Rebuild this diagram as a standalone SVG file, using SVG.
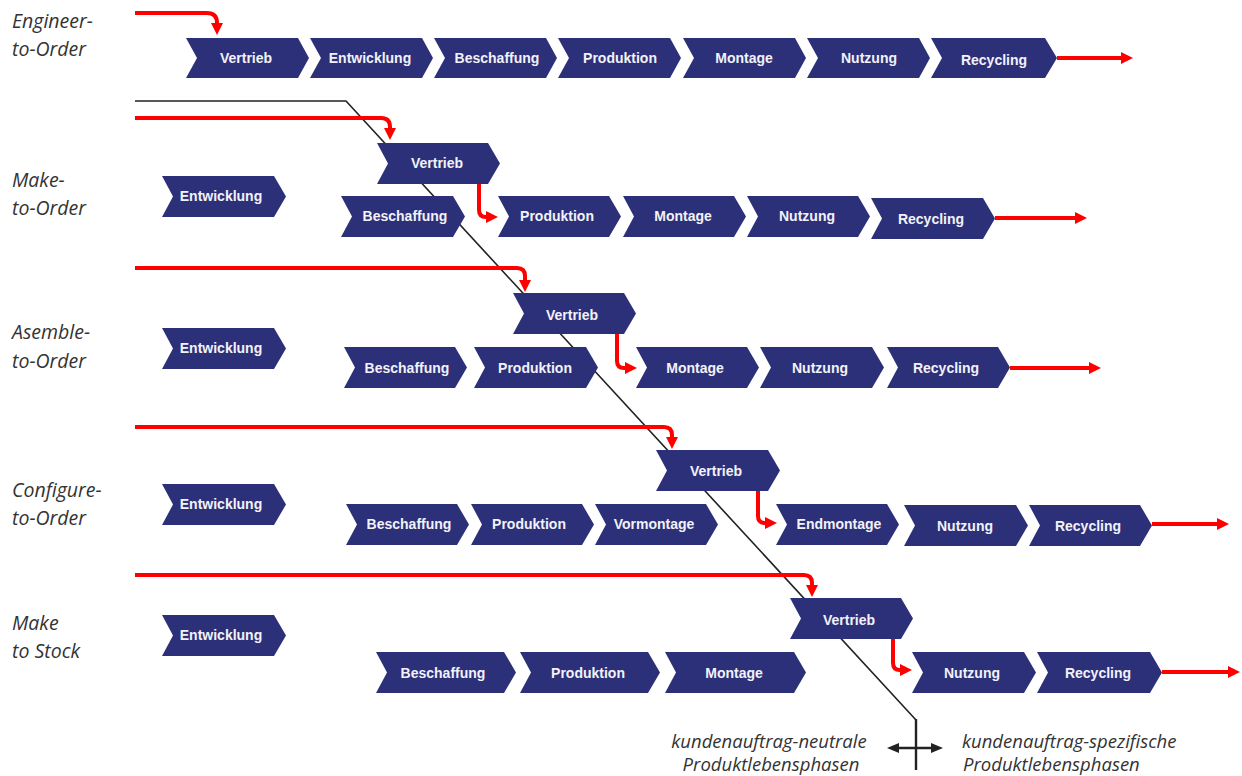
<svg xmlns="http://www.w3.org/2000/svg" width="1242" height="776" viewBox="0 0 1242 776">
<style>
.ch{fill:#2c3079}
.t{font-family:"Liberation Sans",Arial,sans-serif;font-weight:bold;font-size:14px;fill:#f2f2f8;text-anchor:middle}
.lbl{font-family:"Open Sans","Liberation Sans",sans-serif;font-style:italic;font-size:19.5px;fill:#333}
.bl{font-family:"Open Sans","Liberation Sans",sans-serif;font-style:italic;font-size:18.5px;fill:#333}
.red{fill:none;stroke:#ff0000;stroke-width:4}
.blk{fill:none;stroke:#222;stroke-width:1.6}
.blk2{fill:none;stroke:#222;stroke-width:2.4}
</style>
<defs>
<marker id="ra" markerUnits="userSpaceOnUse" markerWidth="12" markerHeight="12" refX="3" refY="6" orient="auto"><path d="M0,0 L12,6 L0,12 z" fill="#ff0000"/></marker>
<marker id="ka" markerUnits="userSpaceOnUse" markerWidth="12" markerHeight="10" refX="3" refY="5" orient="auto-start-reverse"><path d="M0,0 L12,5 L0,10 z" fill="#222"/></marker>
</defs>
<rect width="1242" height="776" fill="#fff"/>
<g id="labels">
<text class="lbl" x="12" y="28">Engineer-</text><text class="lbl" x="12" y="56">to-Order</text>
<text class="lbl" x="12" y="187">Make-</text><text class="lbl" x="12" y="215">to-Order</text>
<text class="lbl" x="12" y="339">Asemble-</text><text class="lbl" x="12" y="368">to-Order</text>
<text class="lbl" x="12" y="497">Configure-</text><text class="lbl" x="12" y="525">to-Order</text>
<text class="lbl" x="12" y="630">Make</text><text class="lbl" x="12" y="658">to Stock</text>
</g>
<g id="connectors">
<path class="blk" d="M135,101 H346 L916,720"/>
<path class="blk2" d="M916,719 V770"/>
<path class="blk2" d="M896,748 H934" marker-start="url(#ka)" marker-end="url(#ka)"/>
<path class="red" d="M135,13 H207 Q217,13 217,23 V26" marker-end="url(#ra)"/>
<path class="red" d="M1057,58 H1124" marker-end="url(#ra)"/>
<path class="red" d="M135,118 H381 Q390,118 390,127 V131" marker-end="url(#ra)"/>
<path class="red" d="M479,184 V210 Q479,217 486,217 H489" marker-end="url(#ra)"/>
<path class="red" d="M995,218 H1078" marker-end="url(#ra)"/>
<path class="red" d="M135,268 H517 Q525,268 525,276 V283" marker-end="url(#ra)"/>
<path class="red" d="M617,334 V361 Q617,368 624,368 H628" marker-end="url(#ra)"/>
<path class="red" d="M1010,368 H1092" marker-end="url(#ra)"/>
<path class="red" d="M135,427 H664 Q672,427 672,435 V440" marker-end="url(#ra)"/>
<path class="red" d="M758,491 V516 Q758,523 765,523 H768" marker-end="url(#ra)"/>
<path class="red" d="M1152,524 H1220" marker-end="url(#ra)"/>
<path class="red" d="M135,575 H804 Q812,575 812,583 V588" marker-end="url(#ra)"/>
<path class="red" d="M893,639 V663 Q893,670 900,670 H903" marker-end="url(#ra)"/>
<path class="red" d="M1162,672 H1231" marker-end="url(#ra)"/>
</g>
<g id="eto">
<g id="eto-vertrieb"><polygon class="ch" points="186,38 298,38 309,58 298,78 186,78 197,58"/><text class="t" x="246" y="63">Vertrieb</text></g>
<g id="eto-entwicklung"><polygon class="ch" points="310,38 422,38 433,58 422,78 310,78 321,58"/><text class="t" x="370" y="63">Entwicklung</text></g>
<g id="eto-beschaffung"><polygon class="ch" points="434,38 546,38 557,58 546,78 434,78 445,58"/><text class="t" x="497" y="63">Beschaffung</text></g>
<g id="eto-produktion"><polygon class="ch" points="558,38 670,38 681,58 670,78 558,78 569,58"/><text class="t" x="620" y="63">Produktion</text></g>
<g id="eto-montage"><polygon class="ch" points="683,38 795,38 806,58 795,78 683,78 694,58"/><text class="t" x="744" y="63">Montage</text></g>
<g id="eto-nutzung"><polygon class="ch" points="807,38 919,38 930,58 919,78 807,78 818,58"/><text class="t" x="869" y="63">Nutzung</text></g>
<g id="eto-recycling"><polygon class="ch" points="931,38 1045,38 1057,58 1045,78 931,78 942,58"/><text class="t" x="994" y="65">Recycling</text></g>
</g>
<g id="mto">
<g id="mto-entwicklung"><polygon class="ch" points="162,176 274,176 286,196.5 274,217 162,217 173,196.5"/><text class="t" x="221" y="201">Entwicklung</text></g>
<g id="mto-vertrieb"><polygon class="ch" points="377,143 488,143 500,163.5 488,184 377,184 388,163.5"/><text class="t" x="437" y="168">Vertrieb</text></g>
<g id="mto-beschaffung"><polygon class="ch" points="341,196 453,196 465,216.5 453,237 341,237 352,216.5"/><text class="t" x="405" y="221">Beschaffung</text></g>
<g id="mto-produktion"><polygon class="ch" points="498,196 609,196 621,216.5 609,237 498,237 509,216.5"/><text class="t" x="557" y="221">Produktion</text></g>
<g id="mto-montage"><polygon class="ch" points="623,196 734,196 746,216.5 734,237 623,237 634,216.5"/><text class="t" x="683" y="221">Montage</text></g>
<g id="mto-nutzung"><polygon class="ch" points="747,196 858,196 870,216.5 858,237 747,237 758,216.5"/><text class="t" x="807" y="221">Nutzung</text></g>
<g id="mto-recycling"><polygon class="ch" points="871,198 983,198 995,218.5 983,239 871,239 882,218.5"/><text class="t" x="931" y="224">Recycling</text></g>
</g>
<g id="ato">
<g id="ato-entwicklung"><polygon class="ch" points="162,328 274,328 286,348.5 274,369 162,369 173,348.5"/><text class="t" x="221" y="353">Entwicklung</text></g>
<g id="ato-vertrieb"><polygon class="ch" points="513,293 624,293 636,313.5 624,334 513,334 524,313.5"/><text class="t" x="572" y="320">Vertrieb</text></g>
<g id="ato-beschaffung"><polygon class="ch" points="344,347 455,347 467,367.5 455,388 344,388 355,367.5"/><text class="t" x="407" y="373">Beschaffung</text></g>
<g id="ato-produktion"><polygon class="ch" points="474,347 586,347 598,367.5 586,388 474,388 485,367.5"/><text class="t" x="535" y="373">Produktion</text></g>
<g id="ato-montage"><polygon class="ch" points="636,347 747,347 759,367.5 747,388 636,388 647,367.5"/><text class="t" x="695" y="373">Montage</text></g>
<g id="ato-nutzung"><polygon class="ch" points="760,347 872,347 884,367.5 872,388 760,388 771,367.5"/><text class="t" x="820" y="373">Nutzung</text></g>
<g id="ato-recycling"><polygon class="ch" points="887,347 998,347 1010,367.5 998,388 887,388 898,367.5"/><text class="t" x="946" y="373">Recycling</text></g>
</g>
<g id="cto">
<g id="cto-entwicklung"><polygon class="ch" points="162,484 274,484 286,504.5 274,525 162,525 173,504.5"/><text class="t" x="221" y="509">Entwicklung</text></g>
<g id="cto-vertrieb"><polygon class="ch" points="656,450 768,450 780,470.5 768,491 656,491 667,470.5"/><text class="t" x="716" y="476">Vertrieb</text></g>
<g id="cto-beschaffung"><polygon class="ch" points="346,504 457,504 469,524.5 457,545 346,545 357,524.5"/><text class="t" x="409" y="529">Beschaffung</text></g>
<g id="cto-produktion"><polygon class="ch" points="471,504 582,504 594,524.5 582,545 471,545 482,524.5"/><text class="t" x="529" y="529">Produktion</text></g>
<g id="cto-vormontage"><polygon class="ch" points="595,504 706,504 718,524.5 706,545 595,545 606,524.5"/><text class="t" x="654" y="529">Vormontage</text></g>
<g id="cto-endmontage"><polygon class="ch" points="776,504 887,504 899,524.5 887,545 776,545 787,524.5"/><text class="t" x="839" y="529">Endmontage</text></g>
<g id="cto-nutzung"><polygon class="ch" points="904,505 1016,505 1028,525.5 1016,546 904,546 915,525.5"/><text class="t" x="965" y="531">Nutzung</text></g>
<g id="cto-recycling"><polygon class="ch" points="1029,505 1140,505 1152,525.5 1140,546 1029,546 1040,525.5"/><text class="t" x="1088" y="531">Recycling</text></g>
</g>
<g id="mts">
<g id="mts-entwicklung"><polygon class="ch" points="162,615 274,615 286,635.5 274,656 162,656 173,635.5"/><text class="t" x="221" y="640">Entwicklung</text></g>
<g id="mts-vertrieb"><polygon class="ch" points="790,598 901,598 913,618.5 901,639 790,639 801,618.5"/><text class="t" x="849" y="625">Vertrieb</text></g>
<g id="mts-beschaffung"><polygon class="ch" points="376,652 504,652 516,672.5 504,693 376,693 387,672.5"/><text class="t" x="443" y="678">Beschaffung</text></g>
<g id="mts-produktion"><polygon class="ch" points="520,652 648,652 660,672.5 648,693 520,693 531,672.5"/><text class="t" x="588" y="678">Produktion</text></g>
<g id="mts-montage"><polygon class="ch" points="665,652 794,652 806,672.5 794,693 665,693 676,672.5"/><text class="t" x="734" y="678">Montage</text></g>
<g id="mts-nutzung"><polygon class="ch" points="912,652 1024,652 1036,672.5 1024,693 912,693 923,672.5"/><text class="t" x="972" y="678">Nutzung</text></g>
<g id="mts-recycling"><polygon class="ch" points="1037,652 1150,652 1162,672.5 1150,693 1037,693 1048,672.5"/><text class="t" x="1098" y="678">Recycling</text></g>
</g>
<g id="legend">
<text class="bl" x="769" y="748" text-anchor="middle">kundenauftrag-neutrale</text>
<text class="bl" x="771" y="771" text-anchor="middle">Produktlebensphasen</text>
<text class="bl" x="962" y="748">kundenauftrag-spezifische</text>
<text class="bl" x="963" y="771">Produktlebensphasen</text>
</g>
</svg>
